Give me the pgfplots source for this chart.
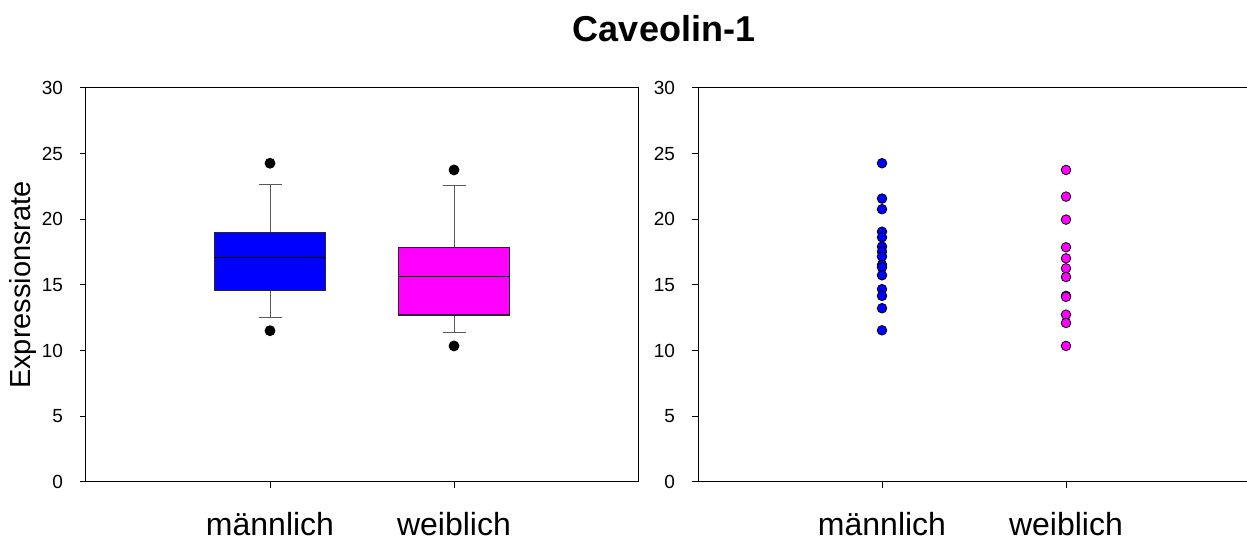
\documentclass[border=0pt]{standalone}
\usepackage{pgfplots}
\pgfplotsset{compat=1.18}
\usepgfplotslibrary{statistics}
\usepackage{fontspec}
\setmainfont{Liberation Sans}
\definecolor{pblue}{RGB}{0,0,255}
\definecolor{pmag}{RGB}{255,0,255}

\begin{document}
\begin{tikzpicture}
\useasboundingbox (0,0) rectangle (623.5pt,270pt);
\pgfplotsset{
  mybase/.style={
    scale only axis, width=276pt, height=197pt,
    xmin=0, xmax=3, ymin=0, ymax=30,
    xtick={1,2}, xticklabels={männlich, weiblich},
    ytick={0,5,...,30},
    tick pos=left, tick align=outside,
    major tick length=3pt,
    axis line style={line width=0.5pt},
    every tick/.style={line width=0.5pt, black},
    yticklabel style={font=\fontsize{9.5}{10}\selectfont, xshift=-5pt},
    xticklabel style={font=\fontsize{16}{18}\selectfont, yshift=-8.5pt},
    /pgf/number format/assume math mode=true,
    clip=false,
  }
}
\begin{axis}[mybase, at={(43pt,29pt)}, anchor=south west,
  ylabel={Expressionsrate},
  ylabel style={font=\fontsize{14.5}{16}\selectfont, at={(axis description cs:-0.114,0.5)}, anchor=center},
  boxplot/draw direction=y,
]
\addplot[boxplot prepared={median=17.08, upper quartile=19.02, lower quartile=14.57,
    upper whisker=22.64, lower whisker=12.51, draw position=1,
    box extend=0.6, whisker extend=0.125},
  boxplot/every box/.style={fill=pblue, draw=black!85, line width=0.6pt},
  boxplot/every whisker/.style={draw=black!65, line width=0.5pt},
  boxplot/every median/.style={draw=black, line width=0.5pt},
  mark=*, mark size=2.5pt, mark options={fill=black, draw=black}]
  table[row sep=\\, y index=0] {data\\ 24.27\\ 11.52\\};
\addplot[boxplot prepared={median=15.67, upper quartile=17.84, lower quartile=12.72,
    upper whisker=22.54, lower whisker=11.37, draw position=2,
    box extend=0.6, whisker extend=0.125},
  boxplot/every box/.style={fill=pmag, draw=black!85, line width=0.6pt},
  boxplot/every whisker/.style={draw=black!65, line width=0.5pt},
  boxplot/every median/.style={draw=black, line width=0.5pt},
  mark=*, mark size=2.5pt, mark options={fill=black, draw=black}]
  table[row sep=\\, y index=0] {data\\ 23.76\\ 10.36\\};
\end{axis}

\begin{axis}[mybase, at={(349pt,29pt)}, anchor=south west]
\addplot[only marks, mark=*, mark size=2.4pt, mark options={fill=pblue, draw=black, line width=0.4pt}]
  table[row sep=\\] {x y\\ 1 24.27\\ 1 21.58\\ 1 20.77\\ 1 19.06\\ 1 18.63\\ 1 17.92\\ 1 17.54\\ 1 17.16\\ 1 16.53\\ 1 16.35\\ 1 15.74\\ 1 14.68\\ 1 14.17\\ 1 13.23\\ 1 11.55\\};
\addplot[only marks, mark=*, mark size=2.4pt, mark options={fill=pmag, draw=black, line width=0.4pt}]
  table[row sep=\\] {x y\\ 2 23.76\\ 2 21.73\\ 2 19.98\\ 2 17.87\\ 2 17.03\\ 2 16.27\\ 2 15.61\\ 2 14.17\\ 2 14.10\\ 2 12.74\\ 2 12.11\\ 2 10.36\\};
\end{axis}

\node[font=\bfseries\fontsize{18}{20}\selectfont] at (332pt,255.5pt) {Caveolin-1};
\end{tikzpicture}
\end{document}
